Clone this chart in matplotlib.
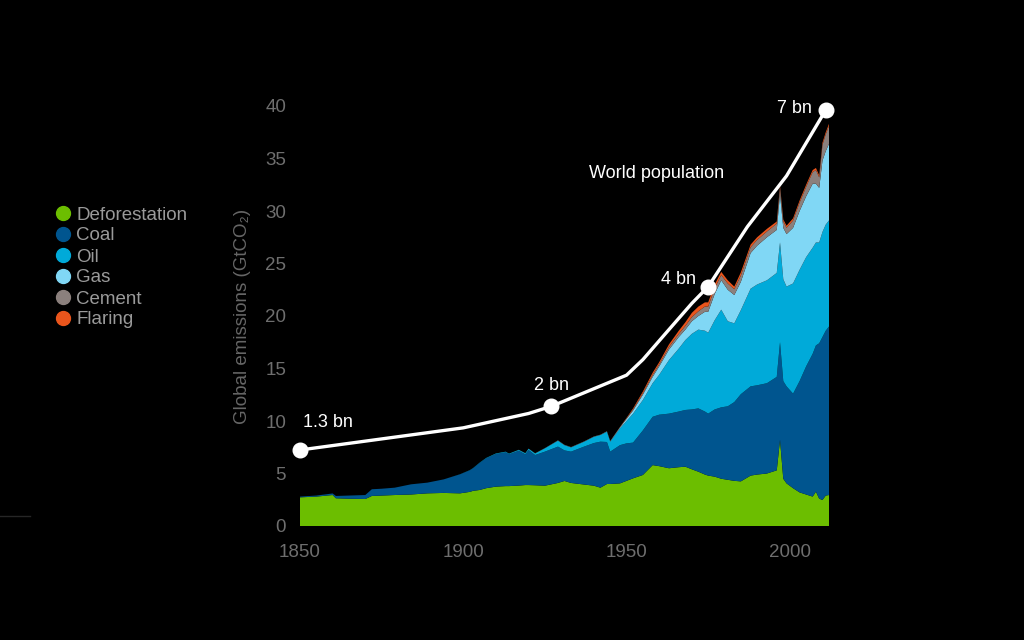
import matplotlib
matplotlib.use("Agg")
import matplotlib.pyplot as plt
from matplotlib.lines import Line2D

plt.rcParams['font.family'] = ['Liberation Sans', 'DejaVu Sans']

# ---- data (GtCO2 per source, stacked bottom to top) ----
years = [1850, 1855, 1860, 1861, 1865, 1870, 1872, 1875, 1879, 1884,
         1889, 1894, 1899, 1902, 1903, 1905, 1907, 1910, 1913, 1914,
         1917, 1919, 1920, 1922, 1925, 1929, 1931, 1933, 1937, 1940,
         1942, 1944, 1945, 1948, 1950, 1952, 1955, 1958, 1960, 1963,
         1966, 1968, 1970, 1972, 1974, 1975, 1977, 1979, 1981, 1983,
         1985, 1988, 1990, 1993, 1996, 1997, 1998, 1999, 2001, 2003,
         2005, 2007, 2008, 2009, 2010, 2011, 2012]

deforestation = [2.73, 2.80, 2.95, 2.64, 2.60, 2.57, 2.86, 2.90, 2.95, 3.00,
                 3.11, 3.15, 3.11, 3.25, 3.35, 3.43, 3.60, 3.75, 3.80, 3.80,
                 3.85, 3.90, 3.90, 3.88, 3.84, 4.10, 4.29, 4.10, 3.95, 3.84,
                 3.65, 4.00, 4.00, 4.06, 4.30, 4.54, 4.86, 5.80, 5.70, 5.50,
                 5.60, 5.65, 5.40, 5.17, 4.90, 4.80, 4.70, 4.50, 4.40, 4.30,
                 4.25, 4.80, 4.90, 5.00, 5.30, 8.20, 4.50, 4.06, 3.60, 3.20,
                 3.00, 2.80, 3.27, 2.60, 2.48, 2.90, 2.95]

coal = [0.07, 0.10, 0.15, 0.22, 0.30, 0.38, 0.64, 0.65, 0.70, 0.97,
        1.02, 1.29, 1.81, 2.05, 2.15, 2.57, 2.84, 3.11, 3.22, 3.03,
        3.32, 2.93, 3.34, 2.88, 3.24, 3.46, 2.91, 2.98, 3.61, 4.06,
        4.38, 4.00, 3.08, 3.64, 3.57, 3.40, 4.24, 4.60, 4.90, 5.20,
        5.30, 5.40, 5.70, 6.03, 6.00, 5.90, 6.40, 6.80, 7.00, 7.50,
        8.30, 8.50, 8.50, 8.60, 8.90, 9.30, 9.30, 9.24, 9.00, 10.60,
        12.20, 13.60, 13.93, 14.80, 15.52, 15.70, 16.05]

oil = [0.00, 0.00, 0.00, 0.00, 0.00, 0.00, 0.00, 0.00, 0.00, 0.00,
       0.00, 0.00, 0.01, 0.02, 0.02, 0.03, 0.04, 0.05, 0.06, 0.06,
       0.08, 0.10, 0.12, 0.15, 0.32, 0.57, 0.50, 0.41, 0.47, 0.60,
       0.64, 0.98, 0.95, 1.60, 2.13, 2.76, 2.90, 3.20, 3.80, 5.10,
       6.00, 6.65, 7.20, 7.50, 7.70, 7.70, 8.50, 9.30, 8.10, 7.50,
       8.00, 9.30, 9.60, 9.80, 9.90, 9.50, 9.70, 9.50, 10.50, 10.60,
       10.40, 10.10, 9.80, 9.60, 10.00, 10.10, 10.10]

gas = [0.00, 0.00, 0.00, 0.00, 0.00, 0.00, 0.00, 0.00, 0.00, 0.00,
       0.00, 0.00, 0.00, 0.00, 0.00, 0.00, 0.00, 0.00, 0.00, 0.00,
       0.00, 0.00, 0.00, 0.00, 0.00, 0.00, 0.00, 0.00, 0.00, 0.00,
       0.00, 0.02, 0.03, 0.08, 0.20, 0.30, 0.50, 0.60, 0.80, 1.00,
       1.10, 1.00, 1.20, 1.30, 1.80, 2.00, 2.50, 2.80, 3.00, 2.70,
       2.70, 3.40, 3.70, 4.10, 4.10, 4.60, 4.90, 5.00, 5.30, 5.60,
       5.80, 6.10, 5.60, 5.20, 6.80, 7.00, 7.30]

cement = [0.00, 0.00, 0.00, 0.00, 0.00, 0.00, 0.00, 0.00, 0.00, 0.00,
          0.00, 0.00, 0.00, 0.00, 0.00, 0.00, 0.00, 0.00, 0.00, 0.00,
          0.01, 0.01, 0.01, 0.02, 0.02, 0.03, 0.03, 0.03, 0.03, 0.03,
          0.03, 0.03, 0.03, 0.04, 0.05, 0.10, 0.15, 0.20, 0.20, 0.25,
          0.30, 0.35, 0.40, 0.45, 0.50, 0.50, 0.55, 0.50, 0.60, 0.55,
          0.60, 0.55, 0.55, 0.55, 0.60, 0.60, 0.60, 0.60, 0.70, 0.80,
          0.90, 1.10, 1.30, 1.00, 1.50, 1.60, 1.70]

flaring = [0.00, 0.00, 0.00, 0.00, 0.00, 0.00, 0.00, 0.00, 0.00, 0.00,
           0.00, 0.00, 0.00, 0.00, 0.00, 0.00, 0.00, 0.00, 0.00, 0.00,
           0.00, 0.00, 0.00, 0.00, 0.00, 0.00, 0.00, 0.00, 0.00, 0.00,
           0.00, 0.00, 0.00, 0.02, 0.05, 0.10, 0.15, 0.20, 0.20, 0.25,
           0.30, 0.35, 0.40, 0.45, 0.40, 0.40, 0.35, 0.30, 0.30, 0.25,
           0.30, 0.25, 0.25, 0.25, 0.20, 0.20, 0.20, 0.20, 0.20, 0.20,
           0.20, 0.20, 0.20, 0.20, 0.20, 0.20, 0.20]

sources = ["Deforestation", "Coal", "Oil", "Gas", "Cement", "Flaring"]
colors = ["#6cbe00", "#00558f", "#00aad9", "#80d7f5", "#8b807d", "#ea551c"]

# world population (billions), drawn on the emissions scale
pop_years = [1850, 1900, 1920, 1927, 1950, 1955, 1962, 1970, 1975, 1987, 1999, 2011]
pop_bn = [1.27, 1.64, 1.88, 2.00, 2.52, 2.78, 3.22, 3.72, 4.00, 5.00, 5.85, 6.95]
pop_scale = 5.7  # GtCO2 per billion people on this chart

marked_years = [1850, 1927, 1975, 2011]
marked_labels = ["1.3 bn", "2 bn", "4 bn", "7 bn"]

# ---- figure ----
fig = plt.figure(figsize=(10.24, 6.4), dpi=100, facecolor="black")
ax = fig.add_axes([300 / 1024, 114 / 640, 529 / 1024, 420 / 640])
ax.set_facecolor("black")

ax.stackplot(years, deforestation, coal, oil, gas, cement, flaring,
             colors=colors, linewidth=0)

pop_y = [p * pop_scale for p in pop_bn]
ax.plot(pop_years, pop_y, color="white", lw=2.4, zorder=5,
        solid_capstyle="round", solid_joinstyle="round", clip_on=False)

mark_y = [pop_y[pop_years.index(y)] for y in marked_years]
ax.plot(marked_years, mark_y, "o", color="white", ms=10.5, zorder=6, clip_on=False)

label_style = dict(color="white", fontsize=13, zorder=7)
ax.annotate(marked_labels[0], (marked_years[0], mark_y[0]), xytext=(2, 20),
            textcoords="offset points", ha="left", va="center", **label_style)
ax.annotate(marked_labels[1], (marked_years[1], mark_y[1]), xytext=(0, 15),
            textcoords="offset points", ha="center", va="center", **label_style)
ax.annotate(marked_labels[2], (marked_years[2], mark_y[2]), xytext=(-9, 5),
            textcoords="offset points", ha="right", va="center", **label_style)
ax.annotate(marked_labels[3], (marked_years[3], mark_y[3]), xytext=(-10, 1),
            textcoords="offset points", ha="right", va="center", **label_style)
ax.text(1938.5, 33.6, "World population", ha="left", va="center", **label_style)

ax.set_xlim(1850, 2012)
ax.set_ylim(0, 40)
ax.set_xticks([1850, 1900, 1950, 2000])
ax.set_yticks(range(0, 41, 5))
ax.tick_params(length=0, colors="#6e6e6e", labelsize=13.5)
ax.tick_params(axis="x", pad=13)
ax.tick_params(axis="y", pad=10)
for s in ax.spines.values():
    s.set_visible(False)

ax.set_ylabel("Global emissions (GtCO₂)", color="#666666", fontsize=13.5, labelpad=10)

# legend: dots + labels at the left
for i, (name, col) in enumerate(zip(sources, colors)):
    y = 1 - (213 + 21 * i) / 640
    fig.add_artist(Line2D([63 / 1024], [y], marker="o", ms=10, color=col,
                          linestyle="none", transform=fig.transFigure))
    fig.text(76 / 1024, y, name, color="#9a9a9a", fontsize=13.5,
             ha="left", va="center_baseline")

# faint stray rule at the far left edge
fig.add_artist(Line2D([0, 30 / 1024], [1 - 516 / 640] * 2, color="#262626", lw=1,
                      transform=fig.transFigure))

fig.savefig("out.png", dpi=100, facecolor="black")
